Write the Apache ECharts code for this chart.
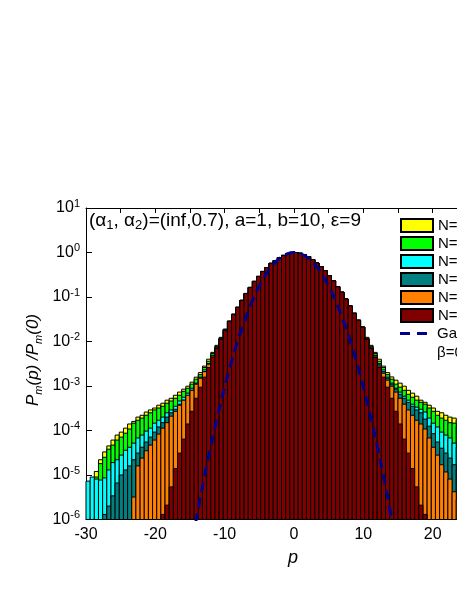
<!DOCTYPE html>
<html>
<head>
<meta charset="utf-8">
<script src="https://cdn.jsdelivr.net/npm/echarts@6/dist/echarts.min.js"></script>
<style>
html, body { margin: 0; padding: 0; background: #fff; }
#chart { width: 457px; height: 591px; }
</style>
</head>
<body>
<div id="chart"></div>
<script>
// histogram bins: 0.6 wide, starting at p=-30 (only the visible part is listed)
var binStart = -30;
var binWidth = 0.6;
var yMin = 1e-6;

var seriesNames = ['N=40000', 'N=4000', 'N=2000', 'N=1000', 'N=300', 'N=200'];
var seriesColors = ['#ffff00', '#00ff00', '#00ffff', '#008080', '#ff8000', '#800000'];

// left tails, bins 0..33 (p from -30 to -9.6)
var yellowLeft = [null, null, 1.2e-5, 2.2e-5, 3.3e-5, 4.5e-5, 6.1e-5, 7.9e-5, 9.2e-5, 1.13e-4, 1.4e-4, 1.6e-4, 2.0e-4, 2.2e-4, 2.6e-4, 2.9e-4, 3.2e-4, 3.7e-4, 4.1e-4, 4.8e-4, 5.3e-4, 6.2e-4, 7.3e-4, 8.5e-4, 9.9e-4, 1.22e-3, 1.58e-3, 2.0e-3, 2.8e-3, 4.0e-3, 5.7e-3, 8.2e-3, 0.0124, 0.0188];
var greenLeft = [null, null, 9.0e-6, 1.8e-5, 2.5e-5, 3.8e-5, 4.7e-5, 6.1e-5, 7.1e-5, 8.7e-5, 1.08e-4, 1.46e-4, 1.7e-4, 1.9e-4, 2.2e-4, 2.5e-4, 2.9e-4, 3.2e-4, 3.5e-4, 4.1e-4, 4.6e-4, 5.3e-4, 6.2e-4, 7.6e-4, 8.9e-4, 1.1e-3, 1.42e-3, 1.8e-3, 2.6e-3, 3.6e-3, 5.4e-3, 7.8e-3, 0.0118, 0.0188];
var cyanLeft = [7.3e-6, 9.0e-6, 8.1e-6, 7.7e-6, 8.6e-6, 1.3e-5, 1.9e-5, 2.2e-5, 2.8e-5, 3.6e-5, 4.2e-5, 5.2e-5, 6.8e-5, 7.9e-5, 9.7e-5, 1.13e-4, 1.46e-4, 1.7e-4, 2.0e-4, 2.5e-4, 2.9e-4, 3.5e-4, 4.6e-4, 5.6e-4, 6.9e-4, 8.9e-4, 1.16e-3, 1.58e-3, 2.3e-3, 3.2e-3, 4.9e-3, 7.4e-3, 0.0118, 0.0188];
var tealLeft = [null, null, null, null, 1.3e-6, 2.0e-6, 3.4e-6, 6.6e-6, 1.0e-5, 1.3e-5, 1.6e-5, 2.2e-5, 3.1e-5, 4.2e-5, 5.5e-5, 7.1e-5, 9.2e-5, 1.2e-4, 1.5e-4, 2.0e-4, 2.5e-4, 3.0e-4, 3.9e-4, 4.8e-4, 5.9e-4, 8.0e-4, 1.1e-3, 1.5e-3, 2.1e-3, 3.1e-3, 4.7e-3, 7.0e-3, 0.0112, 0.0178];
var orangeLeft = [null, null, null, null, null, null, null, null, null, null, null, 3.2e-6, 1.6e-5, 2.4e-5, 3.5e-5, 4.7e-5, 6.1e-5, 8.3e-5, 1.13e-4, 1.5e-4, 2.1e-4, 2.7e-4, 3.7e-4, 4.8e-4, 6.2e-4, 8.0e-4, 1.1e-3, 1.5e-3, 2.1e-3, 3.1e-3, 4.7e-3, 7.0e-3, 0.0112, 0.0178];
var darkRedLeft = [null, null, null, null, null, null, null, null, null, null, null, null, null, null, null, null, null, null, 1.3e-6, 2.1e-6, 5.4e-6, 1.4e-5, 3.1e-5, 6.4e-5, 1.4e-4, 2.7e-4, 5.3e-4, 9.4e-4, 1.58e-3, 2.6e-3, 4.4e-3, 7.0e-3, 0.0112, 0.0178];

// central bins 34..65, where all curves collapse onto one another
var core = [0.0284, 0.0407, 0.0585, 0.0839, 0.12, 0.164, 0.224, 0.29, 0.375, 0.46, 0.57, 0.66, 0.77, 0.86, 0.95, 0.98, 1.0, 0.96, 0.9, 0.81, 0.69, 0.58, 0.48, 0.39, 0.3, 0.23, 0.17, 0.128, 0.09, 0.063, 0.043, 0.03];

// right tails, bins 66..89 (p from 9.6 to 24)
var yellowRight = [0.021, 0.0124, 8.2e-3, 5.7e-3, 4.0e-3, 2.8e-3, 2.0e-3, 1.6e-3, 1.35e-3, 1.16e-3, 9.9e-4, 8.0e-4, 6.9e-4, 5.9e-4, 4.8e-4, 4.3e-4, 3.7e-4, 3.2e-4, 2.7e-4, 2.5e-4, 2.2e-4, 2.0e-4, 1.9e-4, 1.7e-4];
var greenRight = [0.021, 0.0118, 7.8e-3, 5.4e-3, 3.6e-3, 2.6e-3, 1.8e-3, 1.42e-3, 1.1e-3, 9.4e-4, 8.0e-4, 6.5e-4, 5.6e-4, 4.8e-4, 4.3e-4, 3.9e-4, 3.2e-4, 2.7e-4, 2.2e-4, 1.9e-4, 1.7e-4, 1.5e-4, 1.46e-4, 1.2e-4];
var cyanRight = [0.021, 0.0118, 7.4e-3, 4.9e-3, 3.2e-3, 2.3e-3, 1.58e-3, 1.16e-3, 8.9e-4, 7.3e-4, 5.9e-4, 4.8e-4, 3.9e-4, 3.35e-4, 3.0e-4, 2.6e-4, 1.9e-4, 1.46e-4, 1.2e-4, 9.2e-5, 7.9e-5, 6.8e-5, 5.2e-5, 4.2e-5];
var tealRight = [0.021, 0.0112, 7.0e-3, 4.7e-3, 3.1e-3, 2.1e-3, 1.5e-3, 1.1e-3, 8.5e-4, 6.5e-4, 5.3e-4, 4.3e-4, 3.5e-4, 2.9e-4, 2.5e-4, 1.8e-4, 1.25e-4, 8.5e-5, 5.5e-5, 4.0e-5, 3.1e-5, 2.4e-5, 1.7e-5, 1.3e-5];
var orangeRight = [0.021, 0.0112, 7.0e-3, 4.7e-3, 2.8e-3, 1.94e-3, 1.35e-3, 9.9e-4, 7.3e-4, 5.3e-4, 3.9e-4, 2.9e-4, 2.2e-4, 1.7e-4, 1.4e-4, 1.08e-4, 6.8e-5, 4.2e-5, 2.8e-5, 1.7e-5, 1.17e-5, 8.1e-6, 4.2e-6, 2.8e-6];
var darkRedRight = [0.021, 0.0112, 7.0e-3, 4.4e-3, 2.6e-3, 1.58e-3, 9.4e-4, 5.3e-4, 2.7e-4, 1.4e-4, 6.4e-5, 3.1e-5, 1.4e-5, 5.4e-6, 2.1e-6, 1.3e-6, null, null, null, null, null, null, null, null];

// dashed Gaussian curve
var gaussP = [-15, -14, -13, -12, -11, -10, -9, -8, -7, -6, -5, -4, -3, -2, -1, 0, 1, 2, 3, 4, 5, 6, 7, 8, 9, 10, 11, 12, 13, 14, 15];
var gaussV = [1.6e-7, 1.2e-6, 7.9e-6, 4.5e-5, 2.2e-4, 9.5e-4, 3.6e-3, 0.0117, 0.033, 0.082, 0.176, 0.33, 0.535, 0.757, 0.933, 1, 0.933, 0.757, 0.535, 0.33, 0.176, 0.082, 0.033, 0.0117, 3.6e-3, 9.5e-4, 2.2e-4, 4.5e-5, 7.9e-6, 1.2e-6, 1.6e-7];

var tails = [
    [yellowLeft, yellowRight],
    [greenLeft, greenRight],
    [cyanLeft, cyanRight],
    [tealLeft, tealRight],
    [orangeLeft, orangeRight],
    [darkRedLeft, darkRedRight]
];

var FONT = '"Liberation Sans", Arial, sans-serif';
var GAUSS_COLOR = '#00008b';

function binPairs(values) {
    var out = [];
    for (var k = 0; k < values.length; k++) {
        if (values[k] == null) continue;
        var centre = +(binStart + binWidth * (k + 0.5)).toFixed(4);
        out.push([centre, values[k]]);
    }
    return out;
}

function renderBin(params, api) {
    var c = api.value(0);
    var v = api.value(1);
    if (!(v > 0)) return;
    var tl = api.coord([c - binWidth / 2, v]);
    var br = api.coord([c + binWidth / 2, yMin]);
    return {
        type: 'rect',
        shape: { x: tl[0], y: tl[1], width: br[0] - tl[0], height: br[1] - tl[1] },
        style: { fill: api.visual('color'), stroke: '#000', lineWidth: 1 }
    };
}

var series = [];
var legendData = [];
for (var i = 0; i < seriesNames.length; i++) {
    series.push({
        name: seriesNames[i],
        type: 'custom',
        renderItem: renderBin,
        itemStyle: { color: seriesColors[i], borderColor: '#000', borderWidth: 1 },
        data: binPairs(tails[i][0].concat(core, tails[i][1]))
    });
    legendData.push({ name: seriesNames[i], icon: 'rect' });
}
series.push({
    name: 'Gaussian fit',
    type: 'line',
    data: gaussP.map(function (p, j) { return [p, gaussV[j]]; }),
    symbol: 'none',
    smooth: true,
    z: 5,
    lineStyle: { color: GAUSS_COLOR, width: 3, type: [10, 6] }
});

var option = {
    animation: false,
    backgroundColor: '#fff',
    grid: { left: 86, top: 208, width: 416, height: 311.5, containLabel: false, outerBoundsMode: 'none' },
    legend: {
        data: legendData,
        orient: 'vertical',
        left: 400,
        top: 218,
        padding: 0,
        itemWidth: 32,
        itemHeight: 13,
        itemGap: 3,
        selectedMode: false,
        textStyle: { fontSize: 15, color: '#000', fontFamily: FONT }
    },
    xAxis: [{
        type: 'value', min: -30, max: 30, interval: 10, position: 'bottom',
        axisLine: { onZero: false, lineStyle: { color: '#000', width: 1 } },
        axisTick: { inside: true, length: 5, lineStyle: { color: '#000' } },
        minorTick: { show: true, splitNumber: 2, length: 5, lineStyle: { color: '#000' } },
        axisLabel: { margin: 7, fontSize: 16, color: '#000', fontFamily: FONT },
        splitLine: { show: false }
    }, {
        type: 'value', min: -30, max: 30, interval: 10, position: 'top',
        axisLine: { onZero: false, lineStyle: { color: '#000', width: 1 } },
        axisTick: { inside: true, length: 5, lineStyle: { color: '#000' } },
        minorTick: { show: true, splitNumber: 2, length: 5, lineStyle: { color: '#000' } },
        axisLabel: { show: false },
        splitLine: { show: false }
    }],
    yAxis: {
        type: 'log', logBase: 10, min: yMin, max: 10, position: 'left',
        axisLine: { show: true, onZero: false, lineStyle: { color: '#000', width: 1 } },
        axisTick: { show: true, inside: true, length: 6, lineStyle: { color: '#000' } },
        splitLine: { show: false },
        axisLabel: {
            margin: 6,
            formatter: function (v) {
                return '{b|10}{s|' + Math.round(Math.log10(v)) + '}';
            },
            rich: {
                b: { fontSize: 16, lineHeight: 20, color: '#000', fontFamily: FONT },
                s: { fontSize: 11, lineHeight: 11, verticalAlign: 'top', color: '#000', fontFamily: FONT }
            }
        }
    },
    graphic: [{
        type: 'text', left: 89, top: 209, z: 10,
        style: {
            text: '(α{s|1}, α{s|2})=(inf,0.7), a=1, b=10, ε=9',
            fontSize: 19, fontFamily: FONT, fill: '#000', lineHeight: 23,
            rich: { s: { fontSize: 13, lineHeight: 13, verticalAlign: 'bottom', fontFamily: FONT } }
        }
    }, {
        // legend entry for the dashed Gaussian curve
        type: 'line', z: 10,
        shape: { x1: 400, y1: 333.5, x2: 432, y2: 333.5 },
        style: { stroke: GAUSS_COLOR, lineWidth: 3, lineDash: [10, 7] }
    }, {
        type: 'text', left: 437, top: 326, z: 10,
        style: { text: 'Gaussian fit', fontSize: 15, fontFamily: FONT, fill: '#000' }
    }, {
        type: 'text', left: 437, top: 345, z: 10,
        style: { text: 'β=0.14', fontSize: 15, fontFamily: FONT, fill: '#000' }
    }, {
        type: 'text', x: 33, y: 360, rotation: Math.PI / 2, z: 10,
        style: {
            text: '{i|P}{s|m}{i|(p) /P}{s|m}{i|(0)}',
            align: 'center', verticalAlign: 'middle',
            rich: {
                i: { fontSize: 17, fontStyle: 'italic', fontFamily: FONT, lineHeight: 22 },
                s: { fontSize: 11, fontStyle: 'italic', fontFamily: FONT, lineHeight: 11, verticalAlign: 'bottom' }
            }
        }
    }, {
        type: 'text', x: 293, y: 558, z: 10,
        style: { text: 'p', fontSize: 18, fontStyle: 'italic', fontFamily: FONT, fill: '#000', align: 'center', verticalAlign: 'middle' }
    }],
    series: series
};

var chart = echarts.init(document.getElementById('chart'));
chart.setOption(option);
</script>
</body>
</html>
